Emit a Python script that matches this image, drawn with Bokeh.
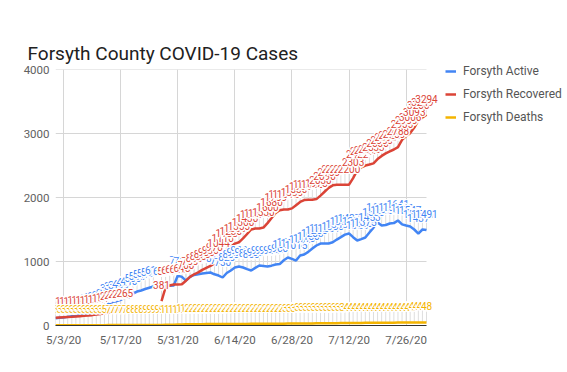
import math
import pandas as pd
from bokeh.plotting import figure
from bokeh.models import Range1d, FixedTicker, Legend, LegendItem, ColumnDataSource
from bokeh.core.properties import value
from bokeh.embed import file_html
from bokeh.resources import INLINE

nan = float("nan")

START_DATE = "2020-05-01"
N_DAYS = 92
TICK_DATES = ["2020-05-03", "2020-05-17", "2020-05-31", "2020-06-14",
              "2020-06-28", "2020-07-12", "2020-07-26"]
TICK_LABELS = ["5/3/20", "5/17/20", "5/31/20", "6/14/20", "6/28/20", "7/12/20", "7/26/20"]
Y_TICKS = [0, 1000, 2000, 3000, 4000]

ACTIVE = [115, 120, 125, 135, 145, 150, 160, 170, 180, 195, 210, 230, 260, 340, 370, 380,
          400, 437, 440, 500, 530, 547, 570, 590, 610, nan, 600, 610, 620, 625, 780, 760,
          700, 760, 790, 800, 812, 820, 828, 800, 781, 750, 820, 860, 906, 922, 906, 880,
          860, 900, 937, 930, 922, 935, 953, 960, 1020, 1062, 1040, 1015, 1094, 1110, 1150,
          1203, 1250, 1281, 1281, 1281, 1300, 1343, 1380, 1420, 1437, 1380, 1328, 1350, 1375,
          1453, 1530, 1609, 1562, 1570, 1594, 1600, 1641, 1580, 1562, 1547, 1500, 1437, 1500,
          1491]

RECOVERED = [120, 124, 128, 132, 136, 141, 146, 151, 156, 162, 170, 180, 190, 205, 220, 235,
             250, 265, nan, nan, nan, nan, nan, nan, nan, nan, 381, 594, 625, 640, 640, 645,
             700, 760, 800, 830, 870, 900, 930, 970, 1044, 1110, 1188, 1230, 1280, 1300, 1360,
             1430, 1500, 1515, 1515, 1530, 1600, 1680, 1760, 1800, 1812, 1812, 1830, 1880, 1930,
             1960, 1966, 1966, 1975, 2030, 2090, 2150, 2190, 2200, 2200, 2200, 2200, 2303, 2422,
             2470, 2500, 2515, 2533, 2600, 2650, 2690, 2720, 2750, 2788, 2900, 2960, 3006, 3093,
             3200, 3249, 3294]

DEATHS = [3] * 12 + [5] + [7] * 5 + [8] * 4 + [9] * 5 + [10, 11, 12, 14, 16, 18] + \
    [20, 20, 21, 21, 22, 22, 22, 23, 23, 23, 24, 24, 25, 25, 25, 26, 26, 27, 27, 27, 28, 28, 29, 29] + \
    [30, 30, 31, 32, 32, 33, 33, 34, 35, 35, 36, 37, 37, 38, 39] + \
    [40, 40, 41, 41, 42, 42, 42, 43, 43, 44, 44, 44, 45, 45, 46, 46, 47, 47, 48, 48]

SERIES = ["Forsyth Active", "Forsyth Recovered", "Forsyth Deaths"]
COLORS = ["#4285F4", "#DB4437", "#F4B400"]

dates = pd.date_range(START_DATE, periods=N_DAYS)
xs = [int(d) for d in (dates - dates[0]).days]
tick_x = [int(d) for d in (pd.to_datetime(TICK_DATES) - dates[0]).days]

# the plotted area runs from the first to the last day; a little room is kept on the
# right so the last data labels are not cut (grid lines still stop at the last day)
DATA_W = 371
EXTRA = 14
px_per_day = DATA_W / (xs[-1] - xs[0])
p = figure(frame_width=DATA_W + EXTRA, frame_height=256,
           min_border_left=55, min_border_right=119, min_border_top=69, min_border_bottom=39,
           x_range=Range1d(xs[0], xs[-1] + EXTRA / px_per_day), y_range=Range1d(0, 4000),
           output_backend="svg", toolbar_location=None,
           title="Forsyth County COVID-19 Cases")
p.outline_line_color = None
p.background_fill_color = "white"
p.border_fill_color = "white"

p.title.text_font = "Roboto"
p.title.text_font_size = "19px"
p.title.text_font_style = "normal"
p.title.text_color = "#212121"
p.title.align = "left"
p.title.vertical_align = "bottom"
p.title.offset = -28
p.title.standoff = 10

p.xaxis.ticker = FixedTicker(ticks=tick_x)
p.xaxis.major_label_overrides = {t: l for t, l in zip(tick_x, TICK_LABELS)}
p.yaxis.ticker = FixedTicker(ticks=Y_TICKS)
for ax in (p.xaxis, p.yaxis):
    ax.major_tick_line_color = None
    ax.minor_tick_line_color = None
    ax.major_tick_out = 0
    ax.major_tick_in = 0
    ax.minor_tick_out = 0
    ax.minor_tick_in = 0
    ax.major_label_text_font = "Roboto"
    ax.major_label_text_font_size = "11.5px"
    ax.major_label_text_color = "#616161"
p.xaxis.axis_line_color = "#333333"
p.xaxis.axis_line_width = 1
p.xaxis.bounds = (xs[0], xs[-1])
p.yaxis.axis_line_color = None
p.xaxis.major_label_standoff = 7
p.yaxis.major_label_standoff = 6
p.xgrid.grid_line_color = "#d6d6d6"
p.ygrid.grid_line_color = None
# horizontal grid lines, stopping at the last day
p.segment(x0=[xs[0]] * len(Y_TICKS), x1=[xs[-1]] * len(Y_TICKS), y0=Y_TICKS, y1=Y_TICKS,
          line_color="#d6d6d6", line_width=1)

sources = []
for vals in (ACTIVE, RECOVERED, DEATHS):
    labels = ["" if (isinstance(v, float) and math.isnan(v)) else str(int(v)) for v in vals]
    sources.append(ColumnDataSource(dict(x=xs, y=vals, label=labels)))

# leader lines from each point up to its label
for src in sources:
    p.ray(x="x", y="y", length=13, length_units="screen", angle=90, angle_units="deg",
          line_color="#dedede", line_width=1, source=src)

line_renderers = []
for src, col in zip(sources, COLORS):
    r = p.line("x", "y", source=src, line_color=col, line_width=2.5)
    line_renderers.append(r)

# data labels with a white halo, drawn point by point so later labels cover earlier ones
AURA = [(-1.5, 0), (1.5, 0), (0, -1.5), (0, 1.5), (-1, -1), (1, -1), (-1, 1), (1, 1)]
LABEL_RAISE = -16
for src, col in zip(sources, COLORS):
    d = dict(x=[], y=[], label=[], color=[], dx=[], dy=[])
    for x, v, lab in zip(src.data["x"], src.data["y"], src.data["label"]):
        if lab == "":
            continue
        for ax_, ay_ in AURA + [(0, 0)]:
            d["x"].append(x)
            d["y"].append(v)
            d["label"].append(lab)
            d["color"].append(col if (ax_, ay_) == (0, 0) else "white")
            d["dx"].append(ax_)
            d["dy"].append(LABEL_RAISE + ay_)
    p.text(x="x", y="y", text="label", source=ColumnDataSource(d), text_color="color",
           x_offset="dx", y_offset="dy", text_font=value("Roboto"), text_font_size="10px",
           text_align="center", text_baseline="alphabetic")

legend = Legend(items=[LegendItem(label=s, renderers=[r]) for s, r in zip(SERIES, line_renderers)],
                location=(5, 201), padding=0, margin=0, spacing=9, glyph_width=11, glyph_height=14,
                label_standoff=7, border_line_color=None, background_fill_alpha=0,
                label_text_font="Roboto", label_text_font_size="12px", label_text_color="#555555")
p.add_layout(legend, "right")

open("out.html", "w").write(file_html(p, INLINE))
